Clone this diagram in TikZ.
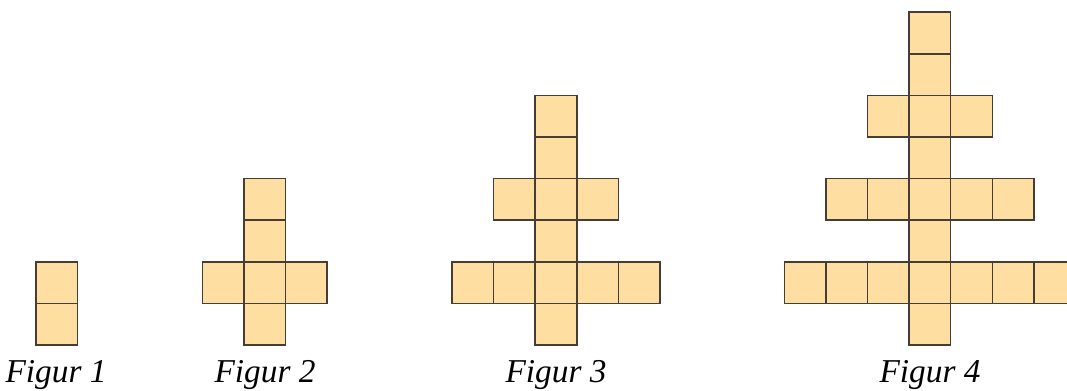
\documentclass[tikz,border=0pt]{standalone}
\usepackage{fontspec}
\setmainfont{Liberation Serif}
\definecolor{cellfill}{RGB}{255,222,161}
\definecolor{celldraw}{RGB}{70,62,54}
\begin{document}
\begin{tikzpicture}[x=0.75pt,y=-0.75pt,
  cell/.style={fill=cellfill,draw=celldraw,line width=1.1pt},
  caption/.style={anchor=base,font=\fontsize{25}{30}\selectfont\itshape}]
\useasboundingbox (0,0) rectangle (1067,390);
\begin{scope}
\clip (0,0) rectangle (1067,390);
\def\u{41.6}
\foreach \n/\cx in {1/36,2/243.9,3/535.2,4/909.1}{
  \pgfmathtruncatemacro\top{2*\n-1}
  \foreach \r in {0,...,\top}{
    \draw[cell] ({\cx},{345-(\r+1)*\u}) rectangle ({\cx+\u},{345-\r*\u});
  }
  \ifnum\n>1
  \pgfmathtruncatemacro\km{\n-1}
  \foreach \k in {1,...,\km}{
    \pgfmathtruncatemacro\len{\n-\k}
    \pgfmathtruncatemacro\row{2*\k-1}
    \foreach \j in {1,...,\len}{
      \draw[cell] ({\cx-\j*\u},{345-(\row+1)*\u}) rectangle ({\cx-(\j-1)*\u},{345-\row*\u});
      \draw[cell] ({\cx+\j*\u},{345-(\row+1)*\u}) rectangle ({\cx+(\j+1)*\u},{345-\row*\u});
    }
  }
  \fi
}
\end{scope}
\node[caption] (c1) at (56,382.5) {Figur 1};
\node[caption] (c2) at (265,382.5) {Figur 2};
\node[caption] (c3) at (556,382.5) {Figur 3};
\node[caption] (c4) at (930,382.5) {Figur 4};
\end{tikzpicture}
\end{document}
